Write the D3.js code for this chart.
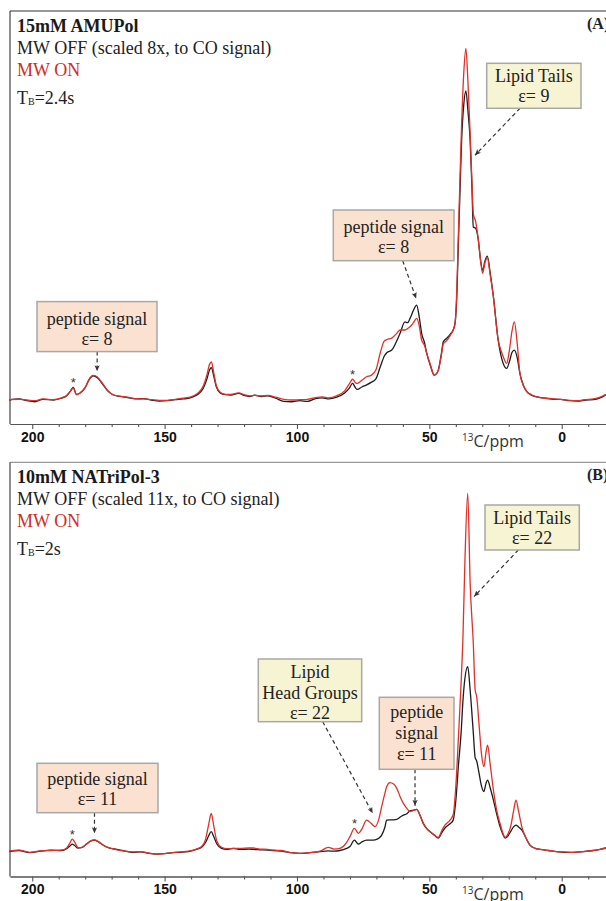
<!DOCTYPE html>
<html>
<head>
<meta charset="utf-8">
<script src="https://cdn.jsdelivr.net/npm/d3@7"></script>
<style>
body { margin: 0; background: #fff; }
svg { display: block; }
text { font-family: "Liberation Serif", "Times New Roman", serif; }
</style>
</head>
<body>
<script>
var w = 606, h = 901;

// panel A: 15mM AMUPol, intensities relative to MW ON maximum (=100)
var ppmA = [208.7, 205, 202, 199, 196, 192, 189, 187, 185.5, 184.5, 183.3, 182, 180, 178.5, 177, 175.5, 173.5, 171.5, 169.5, 167,
    164, 161, 158, 155, 152, 149, 146, 143, 140, 137.5, 135.5, 134, 133, 132.3, 131.5, 130.5, 129, 127, 125, 122,
    120, 118, 116, 113.5, 111, 108, 105, 102, 99, 96, 93, 90.5, 88, 85, 82, 80.3, 79, 78, 77.2, 75.5,
    73.7, 72, 70.2, 68.5, 67, 66, 64.2, 62.5, 61.1, 59.2, 58.2, 57.3, 56, 54.8, 53.8, 52.9, 51.8, 51, 49.5, 48.2,
    47.2, 46.6, 45.5, 44.7, 43.5, 42, 41, 40.3, 39.6, 39.1, 38.4, 37.8, 37, 36.2, 35.4, 34.6, 33.9, 33.4, 32.5, 31.5,
    30.7, 29.9, 29, 28.1, 27, 25.8, 24, 22.9, 22.1, 20.8, 19.8, 18.8, 17.9, 16.8, 15.8, 14.5, 13.2, 11.5, 9.4, 6,
    3, 0.5, -3, -6, -9, -12, -14.5, -16.7];
var offA = [0.0, 0.3, -0.2, -0.5, 0.2, 0.0, 0.5, 1.2, 2.6, 3.6, 1.6, 1.9, 3.5, 5.8, 6.9, 6.4, 4.6, 2.6, 1.5, 1.0,
    0.7, 0.3, 0.4, 0.0, -0.3, -0.2, 0.1, 0.3, 0.7, 1.6, 3.2, 6.0, 8.6, 9.2, 7.0, 3.8, 2.0, 1.5, 1.4, 1.9,
    1.3, 1.0, 1.4, 1.0, 1.2, 0.5, -0.4, -0.5, -0.2, -0.4, 0.4, 0.6, 0.3, 0.8, 2.0, 3.3, 4.7, 3.6, 3.0, 3.7,
    4.3, 5.0, 6.0, 9.5, 12.5, 13.5, 14.2, 16.5, 18.9, 22.2, 22.0, 23.2, 25.5, 27.0, 23.5, 18.9, 16.2, 13.3, 9.5, 7.1,
    7.6, 8.5, 13.0, 16.6, 17.5, 18.8, 19.9, 21.8, 30, 43, 60, 74, 84, 87.9, 82, 73.9, 60, 49.2, 48.8, 45.5,
    40, 36.9, 39.5, 40.9, 36, 29.3, 17, 12.5, 10.4, 9.0, 10.8, 13.5, 14.2, 12, 7.6, 4.2, 2.4, 1.4, 0.9, 0.5,
    0.2, 0.2, -0.2, -0.3, 0.0, 0.1, 0.6, 1.5];
var onA = [0.1, 0.2, 0.0, -0.2, 0.3, 0.1, 0.6, 1.3, 2.6, 3.4, 1.5, 2.0, 3.6, 5.9, 7.0, 6.6, 4.8, 2.7, 1.5, 1.1,
    0.8, 0.4, 0.3, 0.1, -0.1, -0.1, 0.2, 0.5, 0.9, 1.9, 3.8, 7.2, 10.2, 10.8, 8.0, 4.2, 2.2, 1.6, 1.6, 2.0,
    1.5, 1.2, 1.3, 1.2, 1.3, 0.8, 0.2, 0.0, 0.1, 0.2, 0.7, 0.9, 0.6, 1.2, 2.6, 4.5, 5.9, 5.0, 4.7, 5.6,
    6.6, 7.0, 8.5, 13.5, 16.8, 17.2, 17.6, 18.8, 19.9, 19.9, 20.3, 20.8, 22.0, 23.2, 21.0, 17.0, 15.5, 13.3, 9.8, 7.1,
    7.6, 8.5, 12.5, 16.0, 16.8, 18.5, 19.9, 21.8, 32, 45.5, 64, 78.6, 93, 100, 90, 75.8, 62, 53, 50.7, 45.5,
    40, 36, 39, 40.5, 35.5, 29.3, 17, 14.0, 12.3, 10.4, 14, 19.5, 22.2, 16, 7.6, 4.2, 2.4, 1.5, 0.9, 0.5,
    0.3, 0.2, -0.1, -0.2, 0.1, 0.3, 0.8, 1.6];

// panel B: 10mM NATriPol-3
var ppmB = [208.7, 205, 201, 197, 193, 189, 187, 185.7, 184.9, 184, 182.8, 181.5, 179.5, 178, 176.5, 175, 173, 171, 168, 165,
    162, 159, 156, 153, 150, 147, 144, 141, 138, 136, 134.5, 133.3, 132.4, 131.5, 130.3, 128.5, 126.5, 124, 121.5, 118,
    116.5, 114, 111, 109, 106, 103, 99, 95, 91.3, 88.2, 86, 83.8, 81.5, 80, 78.3, 76.8, 75.5, 73.7, 72, 70.5,
    69, 68, 66.8, 66.1, 64.9, 63.5, 62.3, 61, 59.8, 58.5, 57.3, 56, 54.8, 53.5, 52.3, 50.8, 49.8, 48, 46.6, 45.3,
    44.1, 42.2, 41, 40, 39, 38, 37.3, 36.6, 35.5, 34.6, 33.4, 32.7, 32.1, 31.2, 30.3, 29.4, 28.6, 28, 27, 25.8,
    24.5, 23.3, 22.2, 21.4, 20.2, 19.3, 18.2, 17.3, 16.3, 15.1, 13.5, 12, 10, 8.2, 5, 1.9, -1, -4.4, -8, -11.9,
    -14.5, -16.7];
var offB = [-0.3, 0.0, -0.6, -0.2, 0.1, 0.0, 0.5, 1.3, 1.8, 1.4, 0.7, 0.8, 1.8, 2.6, 2.9, 2.4, 1.4, 0.7, 0.3, -0.2,
    -0.5, -0.4, -0.8, -1.0, -0.9, -0.6, -0.5, -0.3, 0.3, 0.9, 2.3, 4.2, 5.3, 4.0, 1.9, 0.6, 0.3, 0.6, 0.3, 0.4,
    0.3, 0.2, 0.1, 0.0, -0.2, -0.5, -0.8, -0.6, -0.3, -0.1, -0.2, 0.0, 0.5, 1.1, 2.9, 1.8, 2.4, 2.9, 2.9, 3.0,
    3.5, 4.3, 6.5, 8.5, 8.6, 8.6, 8.7, 9.4, 9.9, 10.3, 11.1, 11.3, 11.5, 9.8, 7.6, 6.0, 5.3, 4.2, 3.5, 5.0,
    6.3, 7.5, 8.5, 14, 24, 33, 42, 48, 51.5, 45, 33, 26, 25, 21.5, 18, 16.5, 18.8, 19.7, 17.5, 14.1,
    10, 6.7, 4.5, 3.5, 4.2, 5.3, 6.6, 7.1, 6.6, 5.8, 3.5, 1.5, 0.6, 0.3, 0.0, -0.3, -0.5, -0.5, -0.3, 0.0,
    0.3, 0.7];
var onB = [-0.2, 0.1, -0.5, -0.1, 0.0, 0.1, 0.7, 2.2, 3.2, 2.4, 0.9, 0.8, 1.8, 2.7, 3.0, 2.5, 1.4, 0.8, 0.2, -0.2,
    -0.4, -0.3, -0.7, -1.0, -0.9, -0.6, -0.4, -0.2, 0.4, 1.1, 3.2, 7.5, 10.4, 7.2, 2.7, 0.9, 0.5, 0.6, 0.6, 0.7,
    0.7, 0.4, 0.3, 0.1, 0.0, -0.5, -0.8, -0.6, -0.2, 0.9, 0.4, 0.6, 2.0, 3.9, 6.2, 4.8, 6.0, 8.5, 7.6, 6.7,
    9.0, 12.3, 16.0, 17.9, 19.0, 18.6, 17.4, 15.0, 13.2, 11.8, 10.9, 11.2, 11.5, 9.8, 7.6, 6.0, 5.3, 4.3, 3.7, 5.6,
    7.1, 8.5, 10, 18, 32, 47, 60, 80, 100, 75, 58, 45, 43, 35, 27, 23.5, 27.5, 29.5, 24, 16.9,
    11, 7.6, 4.8, 3.7, 4.8, 6.7, 11, 14.1, 11, 6.7, 3.5, 1.5, 0.6, 0.3, 0.0, -0.3, -0.4, -0.5, -0.3, 0.0,
    0.3, 0.7];

var majorTicks = [200, 150, 100, 50, 0];
var minorTicks = [190, 180, 170, 160, 140, 130, 120, 110, 90, 80, 70, 60, 40, 30, 20, 10, -10];

var panels = [
    {top: 11, axisY: 424, base: 400, peakY: 48.3, frameCol: "#333",
     ppm: ppmA, off: offA, on: onA,
     title: "15mM AMUPol", offLabel: "MW OFF (scaled 8x, to CO signal)", tb: "=2.4s", tag: "(A)",
     stars: [[184.5, 3.6], [79, 5.9]],
     boxes: [
        {x: 486.7, y: 63.3, w: 94.3, h: 45, fill: "#f6f4d2", lines: ["Lipid Tails", "ε= 9"], base: [18.6, 38.6], from: 520, tip: [32.75, 69.6]},
        {x: 333.3, y: 210, w: 120.7, h: 50.7, fill: "#fbe2d0", lines: ["peptide signal", "ε= 8"], base: [23.3, 43.3], from: 402.7, tip: [55.0, 28.9]},
        {x: 37, y: 301.6, w: 120, h: 50, fill: "#fbe2d0", lines: ["peptide signal", "ε= 8"], base: [23.4, 43.4], from: 97.2, tip: [175.5, 8.2]}
     ]},
    {top: 462.3, axisY: 876.5, base: 850.5, peakY: 493.3, frameCol: "#999",
     ppm: ppmB, off: offB, on: onB,
     title: "10mM NATriPol-3", offLabel: "MW OFF (scaled 11x, to CO signal)", tb: "=2s", tag: "(B)",
     stars: [[184.9, 3.2], [78.3, 6.2]],
     boxes: [
        {x: 485, y: 505, w: 94.3, h: 45, fill: "#f6f4d2", lines: ["Lipid Tails", "ε= 22"], base: [18.6, 39], from: 518.3, tip: [33.1, 71.1]},
        {x: 258.3, y: 659, w: 103.4, h: 62.7, fill: "#f6f4d2", lines: ["Lipid", "Head Groups", "ε= 22"], base: [18.5, 39.5, 59.5], from: 322.7, tip: [71.4, 10.4]},
        {x: 379.3, y: 697.3, w: 74.7, h: 72, fill: "#fbe2d0", lines: ["peptide", "signal", "ε= 11"], base: [21, 42, 62.5], from: 415, tip: [55.4, 12.5]},
        {x: 37, y: 763.3, w: 121, h: 49.4, fill: "#fbe2d0", lines: ["peptide signal", "ε= 11"], base: [21.7, 41.7], from: 94.5, tip: [176.5, 4.8]}
     ]}
];

var svg = d3.select("body").append("svg")
    .attr("width", w)
    .attr("height", h);

svg.append("rect").attr("width", w).attr("height", h).attr("fill", "#fff");

svg.append("defs").append("marker")
    .attr("id", "ah")
    .attr("viewBox", "0 0 8 8")
    .attr("refX", 8).attr("refY", 4)
    .attr("markerWidth", 6).attr("markerHeight", 6)
    .attr("markerUnits", "userSpaceOnUse")
    .attr("orient", "auto")
    .append("path")
    .attr("d", "M0,0.5 L8,4 L0,7.5 L2,4 z")
    .attr("fill", "#333");

var x = d3.scaleLinear().domain([208.4, -16.8]).range([10, 606.2]);

panels.forEach(function(p) {
    var y = d3.scaleLinear().domain([0, 100]).range([p.base, p.peakY]);
    var g = svg.append("g");

    // frame
    g.append("line").attr("x1", 10).attr("x2", w).attr("y1", p.top).attr("y2", p.top)
        .attr("stroke", p.frameCol).attr("stroke-width", 1.2);
    g.append("line").attr("x1", 10).attr("x2", 10).attr("y1", p.top).attr("y2", p.axisY)
        .attr("stroke", "#444").attr("stroke-width", 1.2);

    // axes
    var minor = g.append("g").attr("transform", "translate(0," + p.axisY + ")")
        .call(d3.axisBottom(x).tickValues(minorTicks).tickSize(3).tickSizeOuter(0).tickFormat(""));
    var major = g.append("g").attr("transform", "translate(0," + p.axisY + ")")
        .call(d3.axisBottom(x).tickValues(majorTicks).tickSize(5).tickSizeOuter(0).tickPadding(3).tickFormat(d3.format("d")));
    g.selectAll(".domain").attr("stroke", "#555").attr("stroke-width", 1.2);
    g.selectAll(".tick line").attr("stroke", "#555").attr("stroke-width", 1.1);
    major.selectAll("text")
        .style("font-family", "'Liberation Sans', Arial, sans-serif")
        .style("font-weight", "bold")
        .style("font-size", "14px")
        .attr("fill", "#111");

    var lab = g.append("text").attr("x", 462).attr("y", p.axisY + 23)
        .style("font-family", "'Open Sans', sans-serif").attr("fill", "#333");
    lab.append("tspan").attr("font-size", 10).attr("dy", -6).text("13");
    lab.append("tspan").attr("font-size", 16).attr("dy", 6).text("C/ppm");

    // spectra
    var lineOff = d3.line()
        .x(function(d, i) { return x(p.ppm[i]); })
        .y(function(d) { return y(d); })
        .curve(d3.curveMonotoneX);
    g.append("path").datum(p.off).attr("d", lineOff)
        .attr("fill", "none").attr("stroke", "#1c1c1c").attr("stroke-width", 1.3);
    g.append("path").datum(p.on).attr("d", lineOff)
        .attr("fill", "none").attr("stroke", "#e0302a").attr("stroke-width", 1.3);

    // spinning sidebands
    g.selectAll(".star").data(p.stars).enter().append("text")
        .attr("x", function(d) { return x(d[0]); })
        .attr("y", function(d) { return y(d[1]) - 0.5; })
        .attr("text-anchor", "middle")
        .style("font-family", "'Liberation Sans', sans-serif")
        .style("font-size", "13px")
        .attr("fill", "#333")
        .text("*");

    // legend text
    g.append("text").attr("x", 17).attr("y", p.top + 20.5)
        .style("font-size", "18px").style("font-weight", "bold").attr("fill", "#1a1a1a").text(p.title);
    g.append("text").attr("x", 17).attr("y", p.top + 43)
        .style("font-size", "18px").attr("fill", "#222").text(p.offLabel);
    g.append("text").attr("x", 17).attr("y", p.top + 64.5)
        .style("font-size", "18px").attr("fill", "#d42b22").text("MW ON");
    var tb = g.append("text").attr("x", 17).attr("y", p.top + 92.5)
        .style("font-size", "18px").attr("fill", "#222");
    tb.append("tspan").text("T");
    tb.append("tspan").attr("font-size", 10).attr("dy", 1).text("B");
    tb.append("tspan").attr("dy", -1).text(p.tb);
    g.append("text").attr("x", 587).attr("y", p.top + 17.5)
        .style("font-size", "16px").style("font-weight", "bold").attr("fill", "#222").text(p.tag);

    // annotation boxes and arrows
    p.boxes.forEach(function(b) {
        g.append("line")
            .attr("x1", b.from).attr("y1", b.y + b.h)
            .attr("x2", x(b.tip[0])).attr("y2", y(b.tip[1]))
            .attr("stroke", "#333").attr("stroke-width", 1.2)
            .attr("stroke-dasharray", "4,3")
            .attr("marker-end", "url(#ah)");
        g.append("rect").attr("x", b.x).attr("y", b.y).attr("width", b.w).attr("height", b.h)
            .attr("fill", b.fill).attr("stroke", "#a8a8a8").attr("stroke-width", 1.5);
        b.lines.forEach(function(t, i) {
            g.append("text").attr("x", b.x + b.w / 2).attr("y", b.y + b.base[i])
                .attr("text-anchor", "middle")
                .style("font-size", "18px").attr("fill", "#222").text(t);
        });
    });
});
</script>
</body>
</html>
